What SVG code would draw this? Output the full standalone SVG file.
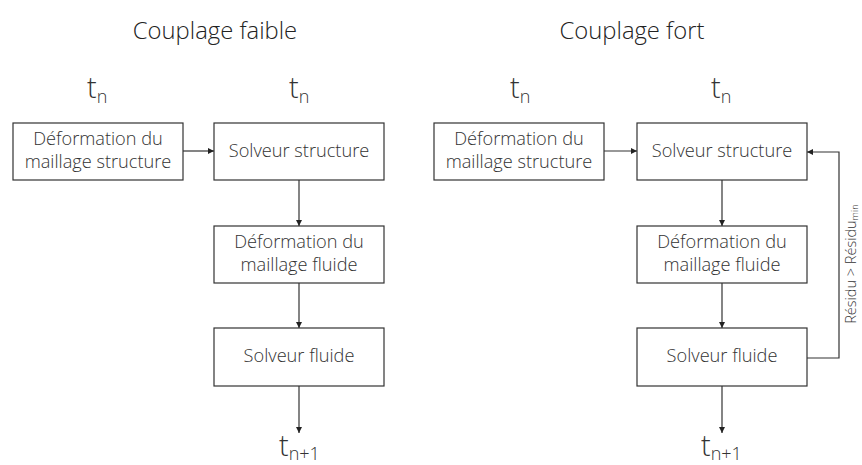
<svg xmlns="http://www.w3.org/2000/svg" width="862" height="465" viewBox="0 0 862 465">
<defs>
<marker id="ah" markerWidth="6" markerHeight="6" refX="6" refY="3" orient="auto" markerUnits="userSpaceOnUse">
<path d="M0,0 L6,3 L0,6 z" fill="#222"/>
</marker>
<style>
.box{fill:#fff;stroke:#333;stroke-width:1.2}
.t{font-family:"Open Sans","Liberation Sans",sans-serif;font-weight:300;fill:#333;font-size:18.2px;text-anchor:middle}
.title{font-family:"Open Sans","Liberation Sans",sans-serif;font-weight:300;fill:#222;font-size:23.8px;text-anchor:middle}
.tn{font-family:"Open Sans","Liberation Sans",sans-serif;font-weight:300;fill:#333;font-size:29px}
.sub{font-size:18px}
.c{fill:none;stroke:#333;stroke-width:1.2}
</style>
</defs>
<rect width="862" height="465" fill="#fff"/>
<text class="title" x="215" y="39">Couplage faible</text>
<text class="title" x="632" y="39">Couplage fort</text>
<text class="tn" x="87" y="98">t<tspan class="sub" dy="5">n</tspan></text>
<text class="tn" x="289" y="98">t<tspan class="sub" dy="5">n</tspan></text>
<text class="tn" x="510" y="98">t<tspan class="sub" dy="5">n</tspan></text>
<text class="tn" x="711" y="98">t<tspan class="sub" dy="5">n</tspan></text>
<text class="tn" x="279" y="456">t<tspan class="sub" dy="4">n+1</tspan></text>
<text class="tn" x="701" y="456">t<tspan class="sub" dy="4">n+1</tspan></text>
<g id="connectors">
<line class="c" x1="183" y1="151" x2="214" y2="151" marker-end="url(#ah)"/>
<line class="c" x1="299" y1="180" x2="299" y2="226" marker-end="url(#ah)"/>
<line class="c" x1="299" y1="283" x2="299" y2="328" marker-end="url(#ah)"/>
<line class="c" x1="299" y1="386" x2="299" y2="433" marker-end="url(#ah)"/>
<line class="c" x1="604" y1="151" x2="637" y2="151" marker-end="url(#ah)"/>
<line class="c" x1="722" y1="180" x2="722" y2="226" marker-end="url(#ah)"/>
<line class="c" x1="722" y1="283" x2="722" y2="328" marker-end="url(#ah)"/>
<line class="c" x1="722" y1="386" x2="722" y2="433" marker-end="url(#ah)"/>
<polyline class="c" points="807,358 839,358 839,152 807,152" marker-end="url(#ah)"/>
<text class="t" transform="translate(856,264) rotate(-90)" style="font-size:14.5px">Résidu &gt; Résidu<tspan style="font-size:9.5px" dy="2">min</tspan></text>
</g>
<g id="n1"><rect class="box" x="13" y="123" width="170" height="57"/><text class="t" x="98" y="145">Déformation du</text><text class="t" x="98" y="168">maillage structure</text></g>
<g id="n2"><rect class="box" x="214" y="123" width="170" height="57"/><text class="t" x="299" y="157">Solveur structure</text></g>
<g id="n3"><rect class="box" x="214" y="226" width="170" height="57"/><text class="t" x="299" y="248">Déformation du</text><text class="t" x="299" y="271">maillage fluide</text></g>
<g id="n4"><rect class="box" x="214" y="328" width="170" height="58"/><text class="t" x="299" y="362">Solveur fluide</text></g>
<g id="n5"><rect class="box" x="434" y="123" width="170" height="57"/><text class="t" x="519" y="145">Déformation du</text><text class="t" x="519" y="168">maillage structure</text></g>
<g id="n6"><rect class="box" x="637" y="123" width="170" height="57"/><text class="t" x="722" y="157">Solveur structure</text></g>
<g id="n7"><rect class="box" x="637" y="226" width="170" height="57"/><text class="t" x="722" y="248">Déformation du</text><text class="t" x="722" y="271">maillage fluide</text></g>
<g id="n8"><rect class="box" x="637" y="328" width="170" height="58"/><text class="t" x="722" y="362">Solveur fluide</text></g>
</svg>
